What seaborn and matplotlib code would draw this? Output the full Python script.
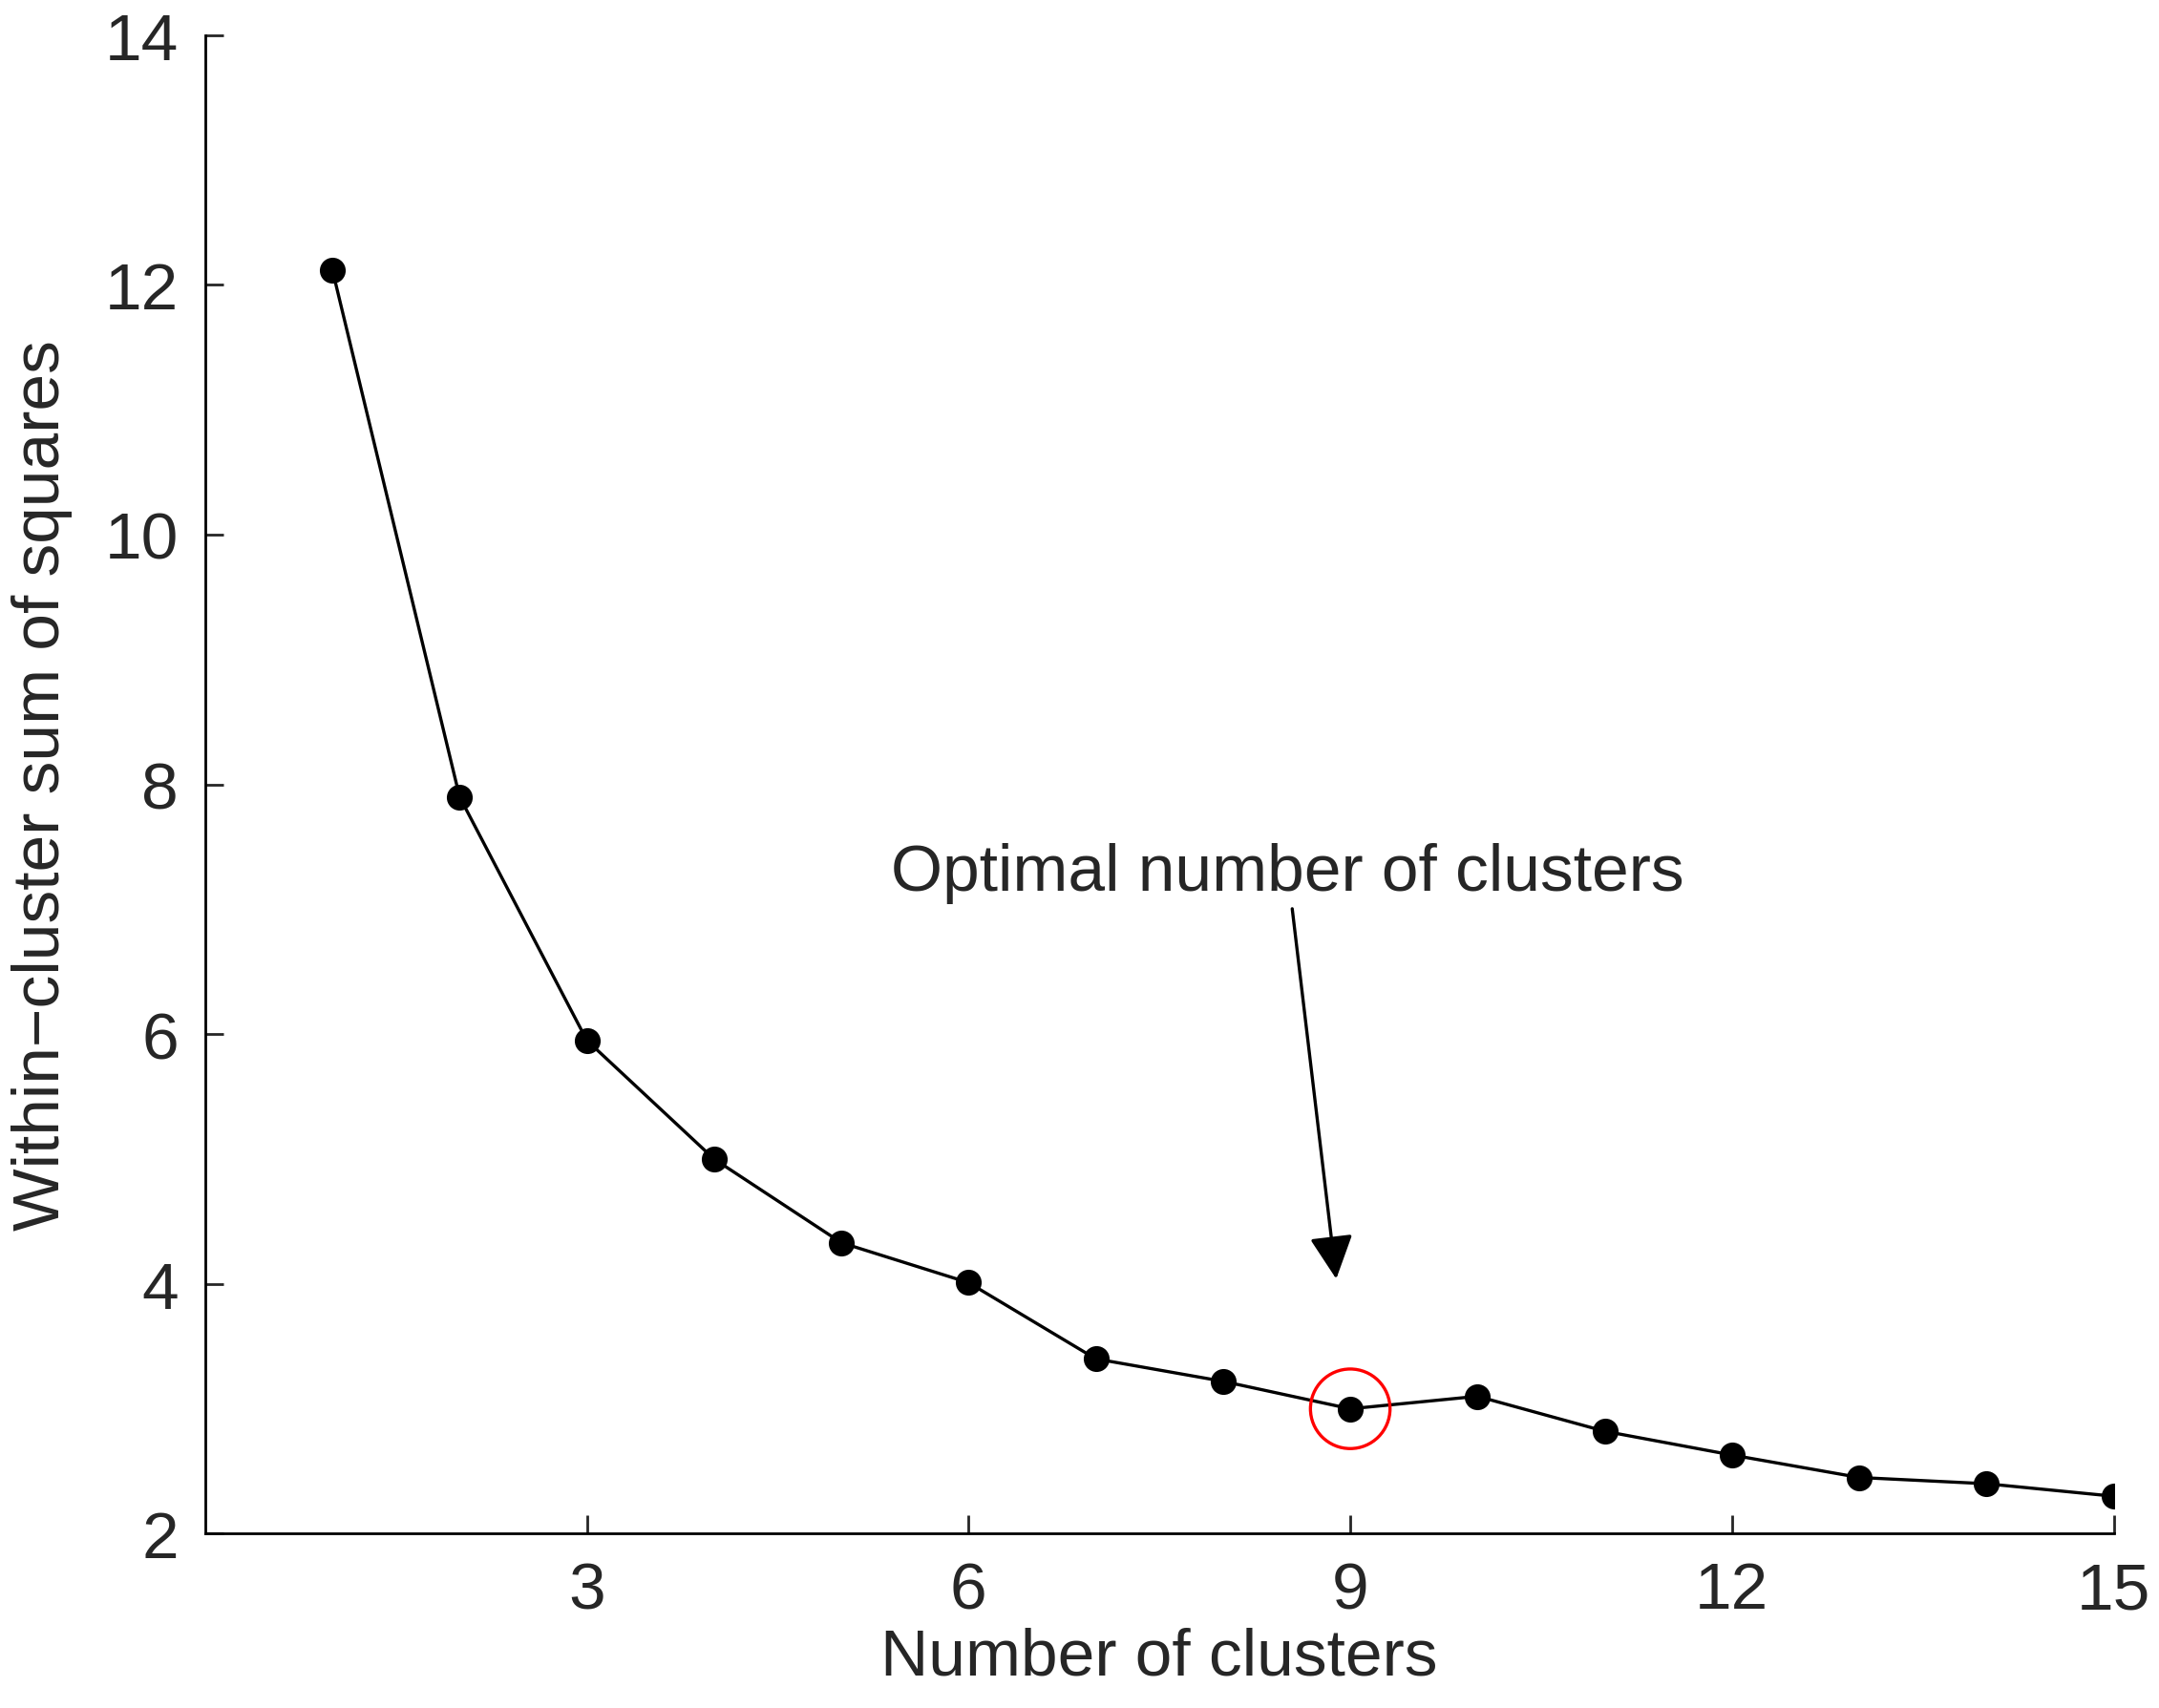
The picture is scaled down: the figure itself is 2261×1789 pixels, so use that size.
import matplotlib
matplotlib.use('Agg')
import matplotlib.pyplot as plt
import seaborn as sns
import pandas as pd

# Elbow curve values
clusters = list(range(1, 16))
wcss = [12.12, 7.9, 5.95, 5.0, 4.33, 4.01, 3.4, 3.22, 3.0, 3.1, 2.82, 2.63, 2.45, 2.4, 2.3]
optimal_k = 9

df = pd.DataFrame({'k': clusters, 'wcss': wcss})

sns.set_style('ticks')
plt.rcParams['font.family'] = ['Liberation Sans', 'DejaVu Sans']

fig = plt.figure(figsize=(11.305, 8.95), dpi=200)
ax = fig.add_axes([0.095, 0.102, 0.884, 0.877])

sns.lineplot(data=df, x='k', y='wcss', ax=ax, color='black', linewidth=1.2,
             marker='o', markersize=9, markeredgecolor='black')

opt_val = wcss[clusters.index(optimal_k)]
ax.scatter([optimal_k], [opt_val], s=900, facecolors='none', edgecolors='red', linewidths=1.2, zorder=5)
ax.annotate('Optimal number of clusters', xy=(8.89, 4.04), xytext=(8.51, 7.05),
            ha='center', va='bottom', fontsize=25,
            arrowprops=dict(arrowstyle='-|>', color='black', lw=1.2, mutation_scale=35,
                            shrinkA=0, shrinkB=0))

ax.set_xlim(0, 15)
ax.set_ylim(2, 14)
ax.set_xticks([3, 6, 9, 12, 15])
ax.set_yticks(range(2, 15, 2))
ax.tick_params(direction='in', length=7, width=1, labelsize=25, pad=10)
ax.set_xlabel('Number of clusters', fontsize=25, labelpad=2)
ax.set_ylabel('Within\u2212cluster sum of squares', fontsize=25, labelpad=12)
for s in ['top', 'right']:
    ax.spines[s].set_visible(False)
for s in ['left', 'bottom']:
    ax.spines[s].set_linewidth(1)
    ax.spines[s].set_color('black')

fig.savefig('out.png', dpi=200)
